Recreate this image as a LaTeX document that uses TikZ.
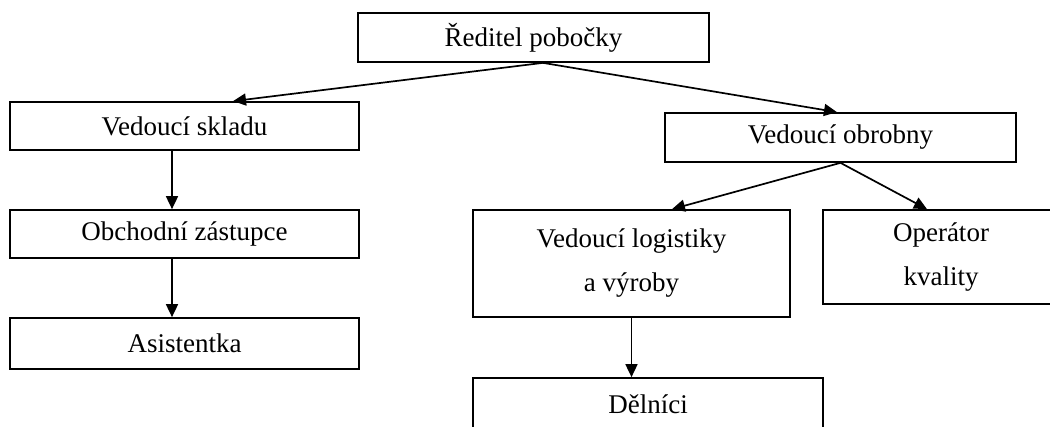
\documentclass[tikz,border=0pt]{standalone}
\usepackage{fontspec}
\setmainfont{Liberation Serif}
\usetikzlibrary{arrows.meta}
\begin{document}
\begin{tikzpicture}[x=1pt,y=-1pt,
  box/.style={draw, line width=1.7pt, inner sep=0pt, anchor=center,
    font=\fontsize{27}{44}\selectfont, align=center},
  link/.style={line width=1.7pt, -{Triangle[length=13pt,width=12pt]}}]
\useasboundingbox (0,0) rectangle (1050,426);
\begin{scope}
\clip (0,0) rectangle (1050,426);
% management
\node[box, minimum width=351pt, minimum height=49pt] (dir) at (533.5,37.5) {Ředitel pobočky};
% warehouse branch
\node[box, minimum width=349pt, minimum height=48pt] (vs) at (184.5,126) {Vedoucí skladu};
\node[box, minimum width=349pt, minimum height=48pt] (oz) at (184.5,234) {Obchodní zástupce};
\node[box, minimum width=349pt, minimum height=51pt] (as) at (184.5,343.5) {Asistentka};
% workshop branch
\node[box, minimum width=351pt, minimum height=49pt] (vo) at (840.5,137.5) {Vedoucí obrobny};
\node[box, minimum width=317pt, minimum height=107pt] (vl) at (631.5,263.5) {Vedoucí logistiky\\a výroby};
\node[box, minimum width=236pt, minimum height=94pt] (op) at (941,257) {Operátor\\kvality};
\node[box, minimum width=350pt, minimum height=52pt] (de) at (648,404) {Dělníci};
\end{scope}
% connectors
\draw[link] ([xshift=9.5pt]dir.south) -- ([xshift=48.5pt]vs.north);
\draw[link] ([xshift=9.5pt]dir.south) -- ([xshift=-3.5pt]vo.north);
\draw[link] ([xshift=-12.5pt]vs.south) -- ([xshift=-12.5pt]oz.north);
\draw[link] ([xshift=-12.5pt]oz.south) -- ([xshift=-12.5pt]as.north);
\draw[link] (vo.south) -- ([xshift=40.5pt]vl.north);
\draw[link] (vo.south) -- ([xshift=-14pt]op.north);
\draw[link] (vl.south) -- ([xshift=-16.5pt]de.north);
\end{tikzpicture}
\end{document}
